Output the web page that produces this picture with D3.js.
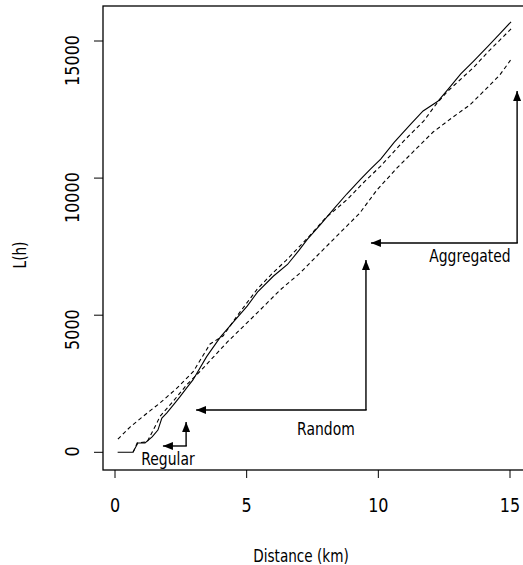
<!DOCTYPE html>
<html>
<head>
<meta charset="utf-8">
<script src="https://cdn.jsdelivr.net/npm/d3@7"></script>
<style>
  html, body { margin: 0; padding: 0; background: #fff; }
  svg { display: block; }
  text { font-family: "DejaVu Sans", Verdana, sans-serif; fill: #000; }
</style>
</head>
<body>
<svg id="chart" width="523" height="565"></svg>
<script>
// Observed L(h) function (solid)
const obsDist = [0.10, 0.68, 0.87, 1.14, 1.41, 1.63, 1.78, 1.97, 2.28, 2.47, 2.73, 2.96, 3.48, 4.00, 4.49, 5.02, 5.41, 6.01, 6.55, 7.00, 7.31, 7.80, 8.30, 8.80, 9.33, 9.70, 10.09, 10.60, 11.23, 11.70, 12.26, 12.70, 13.13, 13.60, 14.16, 14.60, 15.04];
const obsL    = [0, 0, 340, 340, 560, 810, 1250, 1440, 1800, 2030, 2360, 2640, 3490, 4200, 4750, 5330, 5840, 6420, 6850, 7380, 7775, 8300, 8870, 9420, 9965, 10330, 10690, 11300, 11970, 12450, 12800, 13300, 13800, 14250, 14800, 15250, 15700];

// Upper simulation envelope (dashed)
const upperDist = [0.11, 0.57, 1.22, 1.71, 2.34, 2.97, 3.61, 4.11, 4.62, 5.00, 5.40, 6.00, 6.50, 7.30, 8.00, 8.83, 9.40, 10.09, 10.96, 11.72, 12.20, 12.64, 13.63, 14.16, 15.04];
const upperL    = [480, 920, 1430, 1800, 2330, 2940, 3950, 4250, 4950, 5440, 5950, 6550, 7000, 7800, 8550, 9230, 9800, 10440, 11350, 12080, 12700, 13175, 14050, 14600, 15440];

// Lower simulation envelope (dashed)
const lowerDist = [0.69, 0.84, 1.22, 1.59, 1.71, 2.20, 2.74, 3.24, 4.26, 5.01, 5.51, 6.27, 7.03, 7.78, 8.54, 9.30, 9.95, 10.71, 11.47, 12.08, 12.84, 13.48, 14.13, 14.62, 15.02];
const lowerL    = [0, 340, 380, 1070, 1310, 1850, 2480, 2960, 4015, 4720, 5190, 5920, 6540, 7270, 8000, 8730, 9570, 10370, 11100, 11680, 12230, 12670, 13290, 13770, 14300];

// Axis ticks
const xTicks = [0, 5, 10, 15];
const yTicks = [0, 5000, 10000, 15000];

// Pattern annotations: elbow arrow corner, arrow tips and label anchor (data units)
const annLabels  = ["Aggregated", "Random", "Regular"];
const annCornerX = [15.27, 9.53, 2.70];
const annCornerY = [7635, 1543, 230];
const annTipUpY  = [13180, 7013, 1105];
const annTipLeftX = [9.72, 3.08, 1.82];
const annTextX   = [13.48, 8.01, 2.01];
const annTextY   = [6930, 631, -463];

const svg = d3.select("#chart");
const box = { left: 103, top: 6, right: 526, bottom: 470 };

const x = d3.scaleLinear().domain([0, 15]).range([115, 510]);
const y = d3.scaleLinear().domain([0, 15000]).range([452.3, 41]);

const SX = 0.8;   // narrow glyph width used throughout

// arrowhead marker
svg.append("defs").append("marker")
  .attr("id", "head")
  .attr("viewBox", "0 0 10 8")
  .attr("refX", 10).attr("refY", 4)
  .attr("markerWidth", 10).attr("markerHeight", 8)
  .attr("markerUnits", "userSpaceOnUse")
  .attr("orient", "auto")
  .append("path").attr("d", "M0,0 L10,4 L0,8 Z").attr("fill", "#000");

// plot frame
svg.append("rect")
  .attr("x", box.left).attr("y", box.top)
  .attr("width", box.right - box.left).attr("height", box.bottom - box.top)
  .attr("fill", "none").attr("stroke", "#000").attr("stroke-width", 1.3);

// x axis ticks and labels
const xg = svg.append("g");
xg.selectAll("line").data(xTicks).join("line")
  .attr("x1", d => x(d)).attr("x2", d => x(d))
  .attr("y1", box.bottom).attr("y2", box.bottom + 8)
  .attr("stroke", "#000").attr("stroke-width", 1);
xg.selectAll("text").data(xTicks).join("text")
  .attr("transform", d => `translate(${x(d)},512) scale(${SX},1)`)
  .attr("text-anchor", "middle")
  .attr("font-size", 20)
  .text(d => d);

// y axis ticks and labels
const yg = svg.append("g");
yg.selectAll("line").data(yTicks).join("line")
  .attr("x1", box.left - 9).attr("x2", box.left)
  .attr("y1", d => y(d)).attr("y2", d => y(d))
  .attr("stroke", "#000").attr("stroke-width", 1);
yg.selectAll("text").data(yTicks).join("text")
  .attr("transform", d => `translate(79,${y(d) - 6}) rotate(-90) scale(${SX},1)`)
  .attr("text-anchor", "end")
  .attr("font-size", 20)
  .text(d => d);

// axis titles
svg.append("text")
  .attr("transform", `translate(301,562) scale(${SX},1)`)
  .attr("text-anchor", "middle").attr("font-size", 17)
  .text("Distance (km)");
svg.append("text")
  .attr("transform", `translate(26,255) rotate(-90) scale(${SX},1)`)
  .attr("text-anchor", "middle").attr("font-size", 17)
  .text("L(h)");

// curves
const line = d3.line().x(d => x(d[0])).y(d => y(d[1]));
const series = [
  { pts: d3.zip(upperDist, upperL), dash: "4,3" },
  { pts: d3.zip(lowerDist, lowerL), dash: "4,3" },
  { pts: d3.zip(obsDist, obsL), dash: null }
];
svg.append("g").selectAll("path").data(series).join("path")
  .attr("d", d => line(d.pts))
  .attr("fill", "none").attr("stroke", "#000")
  .attr("stroke-width", 1.1)
  .attr("stroke-dasharray", d => d.dash);

// elbow arrows with labels
const ann = annLabels.map((t, i) => ({
  t, cx: annCornerX[i], cy: annCornerY[i], upY: annTipUpY[i], leftX: annTipLeftX[i],
  tx: annTextX[i], ty: annTextY[i]
}));
const ag = svg.append("g");
ann.forEach(a => {
  ag.append("line")
    .attr("x1", x(a.cx)).attr("y1", y(a.cy))
    .attr("x2", x(a.cx)).attr("y2", y(a.upY))
    .attr("stroke", "#000").attr("stroke-width", 1.4)
    .attr("marker-end", "url(#head)");
  ag.append("line")
    .attr("x1", x(a.cx) + 0.7).attr("y1", y(a.cy))
    .attr("x2", x(a.leftX)).attr("y2", y(a.cy))
    .attr("stroke", "#000").attr("stroke-width", 1.4)
    .attr("marker-end", "url(#head)");
  ag.append("text")
    .attr("transform", `translate(${x(a.tx)},${y(a.ty)}) scale(0.82,1)`)
    .attr("text-anchor", "middle").attr("font-size", 17)
    .text(a.t);
});
</script>
</body>
</html>
